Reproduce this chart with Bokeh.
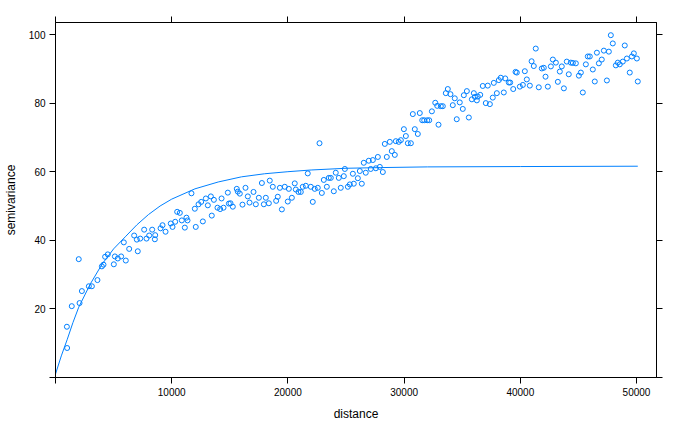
from bokeh.plotting import figure
from bokeh.models import Range1d, FixedTicker, LinearAxis
from bokeh.embed import file_html
from bokeh.resources import INLINE

# empirical semivariogram (distance, semivariance)
dist = [1000, 980, 1400, 2000, 2070, 2270, 2870, 3130, 3610, 3990, 4130, 4270, 4500, 5020, 5110,
        5360, 5650, 5880, 6050, 6340, 6770, 7000, 7080, 7290, 7630, 7830, 8060, 8320, 8550, 8580,
        9040, 9210, 9470, 9920, 10070, 10300, 10470, 10700, 10870, 11130, 11270, 11360, 11700,
        11990, 12070, 12310, 12540, 12680, 12940, 13110, 13370, 13450, 13630, 13940, 14170, 14290,
        14460, 14830, 14920, 15060, 15260, 15600, 15690, 15860, 16090, 16350, 16550, 16700,
        17040, 17240, 17500, 17760, 17930, 18100, 18360, 18440, 18700, 18990, 19130, 19310, 19480,
        19730, 19990, 20080, 20340, 20590, 20680, 20910, 21110, 21280, 21540, 21710, 21970, 22140,
        22310, 22570, 22720, 22920, 23090, 23350, 23520, 23690, 23950, 24120, 24380, 24550, 24810,
        24900, 25160, 25330, 25590, 25670, 26020, 26190, 26360, 26530, 26700, 26960, 27130, 27310,
        27570, 27740, 27910, 28170, 28340, 28510, 28770, 28940, 29200, 29290, 29540, 29720, 29980,
        30150, 30320, 30580, 30750, 30920, 31180, 31350, 31560, 31730, 31990, 32160, 32390, 32680,
        32850, 32960, 33160, 33330, 33590, 33760, 33990, 34190, 34360, 34530, 34790, 35050, 35140,
        35400, 35570, 35830, 36000, 36090, 36260, 36340, 36550, 36770, 37030, 37200, 37380, 37630,
        37720, 37980, 38150, 38320, 38580, 38700, 39010, 39130, 39390, 39590, 39700, 39960, 40220,
        40390, 40560, 40820, 40970, 41160, 41330, 41590, 41850, 42020, 42170, 42370, 42630, 42800,
        43060, 43230, 43400, 43570, 43750, 44000, 44170, 44350, 44520, 44780, 45040, 45210, 45380,
        45640, 45810, 45980, 46240, 46410, 46590, 46760, 47010, 47190, 47450, 47620, 47790, 47960,
        48220, 48390, 48560, 48820, 48990, 49170, 49420, 49600, 49770, 50030, 50110]
gamma = [8.6, 14.8, 20.8, 34.5, 21.7, 25.2, 26.6, 26.6, 28.4, 32.4, 32.9, 35.2, 35.9, 33.0, 35.3,
         34.7, 35.3, 39.4, 34.1, 37.5, 41.4, 40.2, 36.8, 40.5, 43.1, 40.5, 41.4, 43.1, 40.3, 41.5,
         43.5, 44.4, 42.5, 44.9, 43.9, 45.4, 48.3, 48.0, 45.8, 43.7, 46.6, 45.8, 53.7,
         49.2, 43.9, 50.5, 51.2, 45.5, 52.2, 50.2, 52.8, 47.2, 51.8, 49.5, 49.1, 52.2,
         49.5, 53.9, 50.7, 50.8, 49.8, 55.0, 54.2, 53.6, 50.4, 55.3, 52.8, 51.0,
         54.1, 50.5, 52.4, 56.7, 50.5, 52.4, 50.8, 57.4, 55.6, 51.5, 52.7, 55.3, 49.0,
         55.6, 51.3, 55.0, 52.4, 56.6, 54.8, 54.1, 54.1, 55.6, 55.9, 59.5, 55.6, 51.2,
         55.0, 55.3, 68.3, 53.8, 57.6, 55.6, 58.2, 58.2, 54.3, 59.7, 58.2, 55.3, 58.7,
         60.8, 55.6, 56.3, 59.4, 56.5, 58.1, 60.2, 56.5, 62.6, 59.7, 63.2, 60.8, 63.4,
         61.0, 64.3, 61.4, 59.9, 68.1, 64.3, 68.7, 66.0, 64.9, 68.9, 68.7, 69.2, 72.4,
         70.4, 68.3, 68.3, 76.8, 72.4, 71.0, 77.1, 75.0, 75.0, 75.0, 75.0, 77.6, 80.1,
         79.2, 73.7, 79.1, 79.1, 82.9, 84.1, 82.6, 79.4, 81.4, 75.3, 80.2, 78.3, 82.3,
         83.5, 75.8, 81.1, 82.9, 81.8, 80.8, 81.9, 82.4, 85.0, 80.0, 85.1, 79.7, 81.6,
         85.9, 82.9, 86.7, 87.4, 83.1, 87.2, 86.0, 86.0, 84.1, 89.1, 88.9, 84.8, 85.3,
         89.3, 86.9, 85.1, 92.2, 90.8, 95.9, 84.6, 90.1, 90.3, 87.7, 84.8, 90.7, 92.7,
         91.8, 86.2, 89.2, 90.7, 84.3, 92.1, 88.4, 91.8, 91.7, 91.6, 88.0, 88.9, 83.1,
         91.3, 93.6, 93.6, 89.8, 86.3, 94.7, 91.6, 92.7, 95.3, 86.6, 95.0, 99.8, 97.4,
         91.0, 91.8, 91.3, 92.1, 96.8, 93.0, 88.9, 93.6, 94.5, 93.0, 86.3]

# fitted model curve
model_dist = [0, 500, 1000, 1500, 2000, 3000, 4000, 5000, 6000, 7000, 8000, 9000, 10000, 12000,
              14000, 16000, 18000, 20000, 22000, 25000, 28000, 32000, 40000, 50110]
model_gamma = [1.0, 6.3, 11.0, 16.0, 20.5, 27.3, 33.0, 37.5, 41.0, 44.5, 47.5, 50.0, 52.0, 55.0,
               57.0, 58.5, 59.4, 60.0, 60.5, 61.0, 61.2, 61.4, 61.5, 61.6]

x_ticks = [0, 10000, 20000, 30000, 40000, 50000]
y_ticks = [0, 20, 40, 60, 80, 100]

BLUE = "#0080ff"
FONT = "Liberation Sans"

p = figure(width=678, height=423, output_backend="svg", toolbar_location=None,
           x_range=Range1d(0, 51720), y_range=Range1d(0, 103.5),
           min_border_left=55, min_border_right=22, min_border_top=22, min_border_bottom=44)
p.grid.visible = False
p.outline_line_color = "black"
p.outline_line_width = 1
p.background_fill_color = "white"
p.border_fill_color = "white"

p.line(model_dist, model_gamma, line_color=BLUE, line_width=1)
p.scatter(dist, gamma, marker="circle", size=5, fill_color=None, line_color=BLUE, line_width=1)

def style(ax, ticks, labels=True):
    ax.ticker = FixedTicker(ticks=ticks)
    ax.minor_tick_line_color = None
    ax.major_tick_in = 0
    ax.major_tick_out = 6
    ax.major_tick_line_color = "black"
    ax.axis_line_color = "black"
    ax.major_label_text_font = FONT
    ax.major_label_text_font_size = "10px"
    ax.major_label_text_color = "black"
    ax.axis_label_text_font = FONT
    ax.axis_label_text_font_size = "12px"
    ax.axis_label_text_font_style = "normal"
    ax.axis_label_text_color = "black"
    if labels:
        ax.major_label_overrides = {0: ""}
        ax.major_label_standoff = 4
    else:
        ax.major_label_overrides = {t: "" for t in ticks}
        ax.major_label_standoff = 0

xa = p.xaxis[0]
style(xa, x_ticks)
xa.axis_label = "distance"
xa.axis_label_standoff = 8

ya = p.yaxis[0]
style(ya, y_ticks)
ya.axis_label = "semivariance"
ya.axis_label_standoff = 8

top = LinearAxis()
style(top, x_ticks, labels=False)
p.add_layout(top, "above")
right = LinearAxis()
style(right, y_ticks, labels=False)
p.add_layout(right, "right")

open("out.html", "w").write(file_html(p, INLINE))
